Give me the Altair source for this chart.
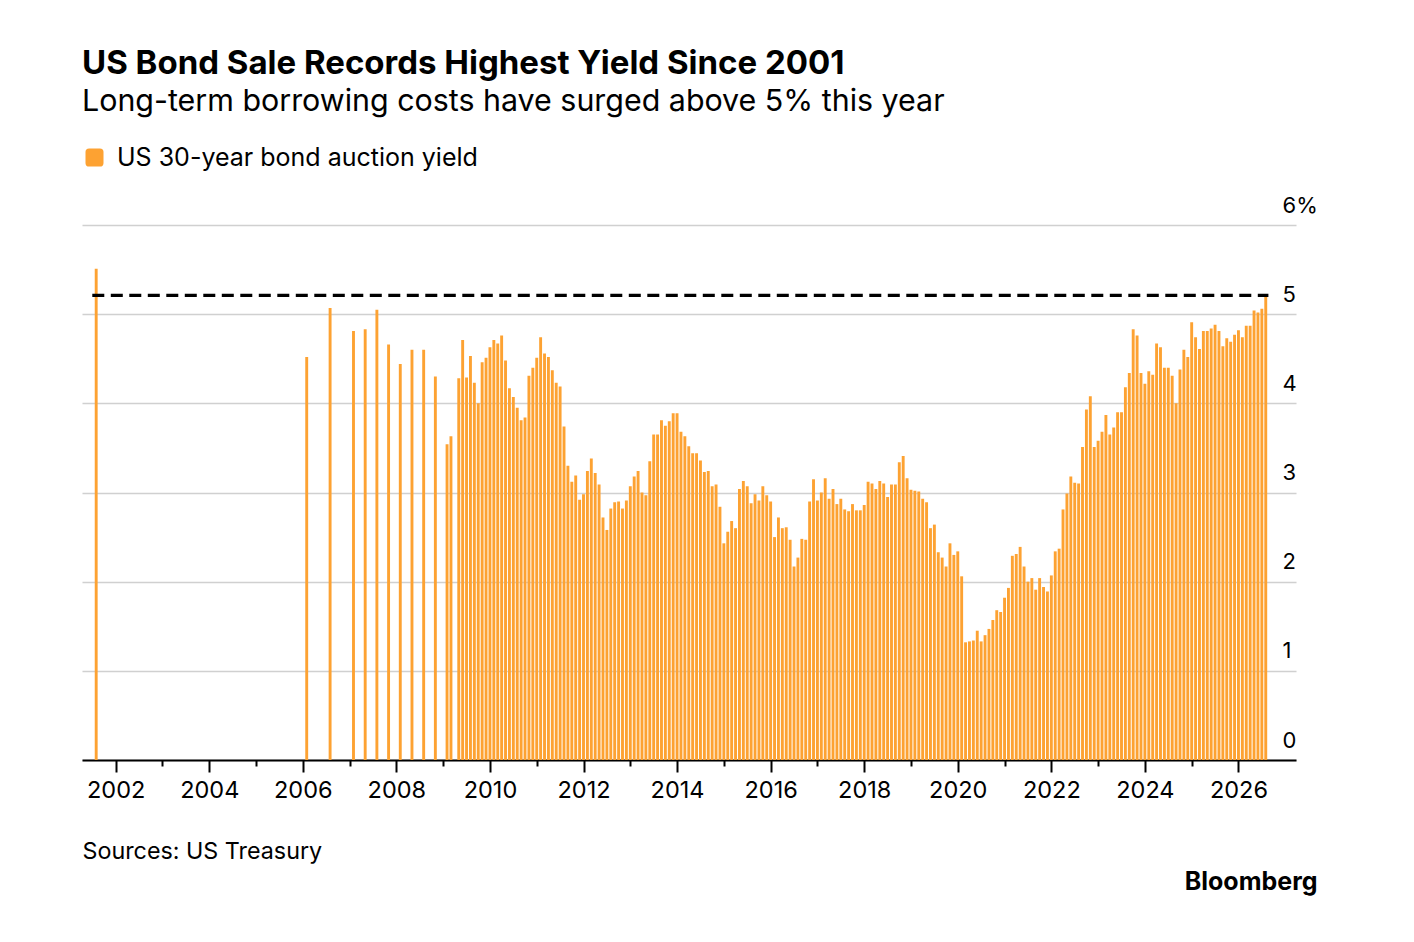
import altair as alt
import pandas as pd

# ---- data ----
early_dates = ["2001-08", "2006-02", "2006-08", "2007-02", "2007-05", "2007-08", "2007-11",
               "2008-02", "2008-05", "2008-08", "2008-11", "2009-02", "2009-03"]
early_yields = [5.51, 4.52, 5.07, 4.81, 4.83, 5.05, 4.66, 4.44, 4.60, 4.60, 4.30, 3.54, 3.63]

monthly_start = "2009-05"  # monthly auctions from May 2009 to Aug 2026
monthly_yields = [
    4.28, 4.71, 4.29, 4.53, 4.23, 4.00, 4.46, 4.51,                                # 2009 May-Dec
    4.63, 4.71, 4.67, 4.76, 4.48, 4.17, 4.07, 3.95, 3.81, 3.84, 4.31, 4.40,        # 2010
    4.51, 4.74, 4.56, 4.52, 4.37, 4.23, 4.19, 3.74, 3.30, 3.12, 3.19, 2.92,        # 2011
    2.98, 3.24, 3.38, 3.22, 3.09, 2.72, 2.58, 2.82, 2.89, 2.90, 2.82, 2.91,        # 2012
    3.07, 3.18, 3.24, 3.00, 2.97, 3.35, 3.65, 3.65, 3.81, 3.75, 3.80, 3.89,        # 2013
    3.89, 3.68, 3.63, 3.52, 3.44, 3.44, 3.36, 3.23, 3.24, 3.07, 3.09, 2.84,        # 2014
    2.43, 2.56, 2.68, 2.60, 3.04, 3.13, 3.07, 2.88, 2.98, 2.91, 3.07, 2.97,        # 2015
    2.90, 2.50, 2.72, 2.60, 2.61, 2.47, 2.17, 2.27, 2.48, 2.47, 2.90, 3.15,        # 2016
    2.91, 3.00, 3.16, 2.93, 3.04, 2.87, 2.93, 2.81, 2.79, 2.87, 2.80, 2.80,        # 2017
    2.86, 3.12, 3.10, 3.04, 3.13, 3.10, 2.95, 3.09, 3.09, 3.34, 3.41, 3.16,        # 2018
    3.03, 3.02, 3.01, 2.93, 2.89, 2.60, 2.64, 2.33, 2.27, 2.17, 2.43, 2.30,        # 2019
    2.34, 2.06, 1.32, 1.33, 1.34, 1.45, 1.33, 1.40, 1.47, 1.57, 1.68, 1.66,        # 2020
    1.82, 1.93, 2.29, 2.31, 2.39, 2.17, 2.00, 2.04, 1.91, 2.04, 1.94, 1.89,        # 2021
    2.07, 2.34, 2.37, 2.81, 2.99, 3.18, 3.11, 3.10, 3.51, 3.93, 4.08, 3.51,        # 2022
    3.58, 3.68, 3.87, 3.65, 3.73, 3.90, 3.90, 4.18, 4.34, 4.83, 4.76, 4.34,        # 2023
    4.22, 4.36, 4.32, 4.67, 4.63, 4.40, 4.40, 4.31, 4.00, 4.38, 4.60, 4.52,        # 2024
    4.91, 4.74, 4.61, 4.81, 4.81, 4.84, 4.88, 4.81, 4.64, 4.73, 4.69, 4.77,        # 2025
    4.82, 4.74, 4.87, 4.87, 5.04, 5.02, 5.06, 5.21,                                # 2026 Jan-Aug
]

series_name = "US 30-year bond auction yield"
record_level = [5.21]
record_span = [2001.50, 2026.64]

x_ticks = list(range(2002, 2027))
y_ticks = [0, 1, 2, 3, 4, 5, 6]

# ---- build table ----
dates = list(pd.to_datetime(early_dates)) + list(pd.date_range(monthly_start, periods=len(monthly_yields), freq="MS"))
yields = early_yields + monthly_yields
df = pd.DataFrame({
    "t": [d.year + (d.month - 1) / 12 for d in dates],
    "yield": yields,
    "series": series_name,
})
rule_df = pd.DataFrame({"x1": [record_span[0]], "x2": [record_span[1]], "y": record_level})

ORANGE = "#FDA232"
FONT = "Inter"

x_scale = alt.Scale(domain=[2001.28, 2027.23], nice=False, zero=False, padding=0)
y_scale = alt.Scale(domain=[0, 6], nice=False)

bars = alt.Chart(df).mark_bar(width=2.9).encode(
    x=alt.X("t:Q", scale=x_scale,
            axis=alt.Axis(values=x_ticks, format="d",
                          labelExpr="datum.value % 2 == 0 ? datum.label : ''",
                          grid=False, domain=True, domainColor="#000000", domainWidth=2,
                          ticks=True, tickColor="#000000", tickWidth=2,
                          tickSize={"condition": {"test": "datum.value % 2 == 1", "value": 6}, "value": 12},
                          labelPadding=6, labelFont=FONT, labelFontSize=23.5, labelColor="#000000",
                          title="Sources: US Treasury", titleFont=FONT, titleFontSize=23.3,
                          titleFontWeight="normal", titleColor="#000000",
                          titleAnchor="start", titleAlign="left", titleBaseline="alphabetic",
                          titleX=0, titleY=98)),
    y=alt.Y("yield:Q", scale=y_scale,
            axis=alt.Axis(orient="right", values=y_ticks, format="d",
                          labelExpr="datum.value == 6 ? '6%' : datum.label",
                          grid=True, gridColor="#d0d0d0", gridWidth=1.5,
                          domain=False, ticks=False,
                          labelAlign="left", labelBaseline="alphabetic", labelPadding=-14,
                          labelOffset=-13, labelFont=FONT, labelFontSize=22, labelColor="#000000",
                          title="Bloomberg", titleFont=FONT, titleFontSize=25, titleFontWeight="bold",
                          titleColor="#000000", titleAngle=0, titleAlign="right",
                          titleBaseline="alphabetic", titleX=21, titleY=664)),
    color=alt.Color("series:N", scale=alt.Scale(range=[ORANGE]),
                    legend=alt.Legend(title=None, orient="none", legendX=0, legendY=-80,
                                      symbolType="M-1,-0.6Q-1,-1,-0.6,-1L0.6,-1Q1,-1,1,-0.6L1,0.6Q1,1,0.6,1L-0.6,1Q-1,1,-1,0.6Z",
                                      symbolSize=324, symbolStrokeWidth=0, symbolOpacity=1,
                                      labelFont=FONT, labelFontSize=25, labelColor="#000000",
                                      labelOffset=10, labelLimit=1000)),
)

rule = alt.Chart(rule_df).mark_rule(color="#000000", strokeWidth=3.2, strokeDash=[12, 6.5]).encode(
    x=alt.X("x1:Q", scale=x_scale),
    x2="x2:Q",
    y=alt.Y("y:Q", scale=y_scale),
)

chart = alt.layer(bars, rule).properties(
    width=1214, height=535,
    background="#ffffff",
    title=alt.TitleParams(
        text="US Bond Sale Records Highest Yield Since 2001",
        subtitle="Long-term borrowing costs have surged above 5% this year",
        anchor="start", font=FONT, fontSize=33, fontWeight="bold", color="#000000",
        subtitleFont=FONT, subtitleFontSize=30.4, subtitleColor="#000000", subtitlePadding=6,
        offset=28,
    ),
    autosize=alt.AutoSizeParams(type="none"),
    padding={"left": 74, "top": 217, "right": 110, "bottom": 170},
).configure_view(stroke="transparent", strokeWidth=0)

chart.save("out.html", embed_options={"renderer": "svg", "actions": False})
